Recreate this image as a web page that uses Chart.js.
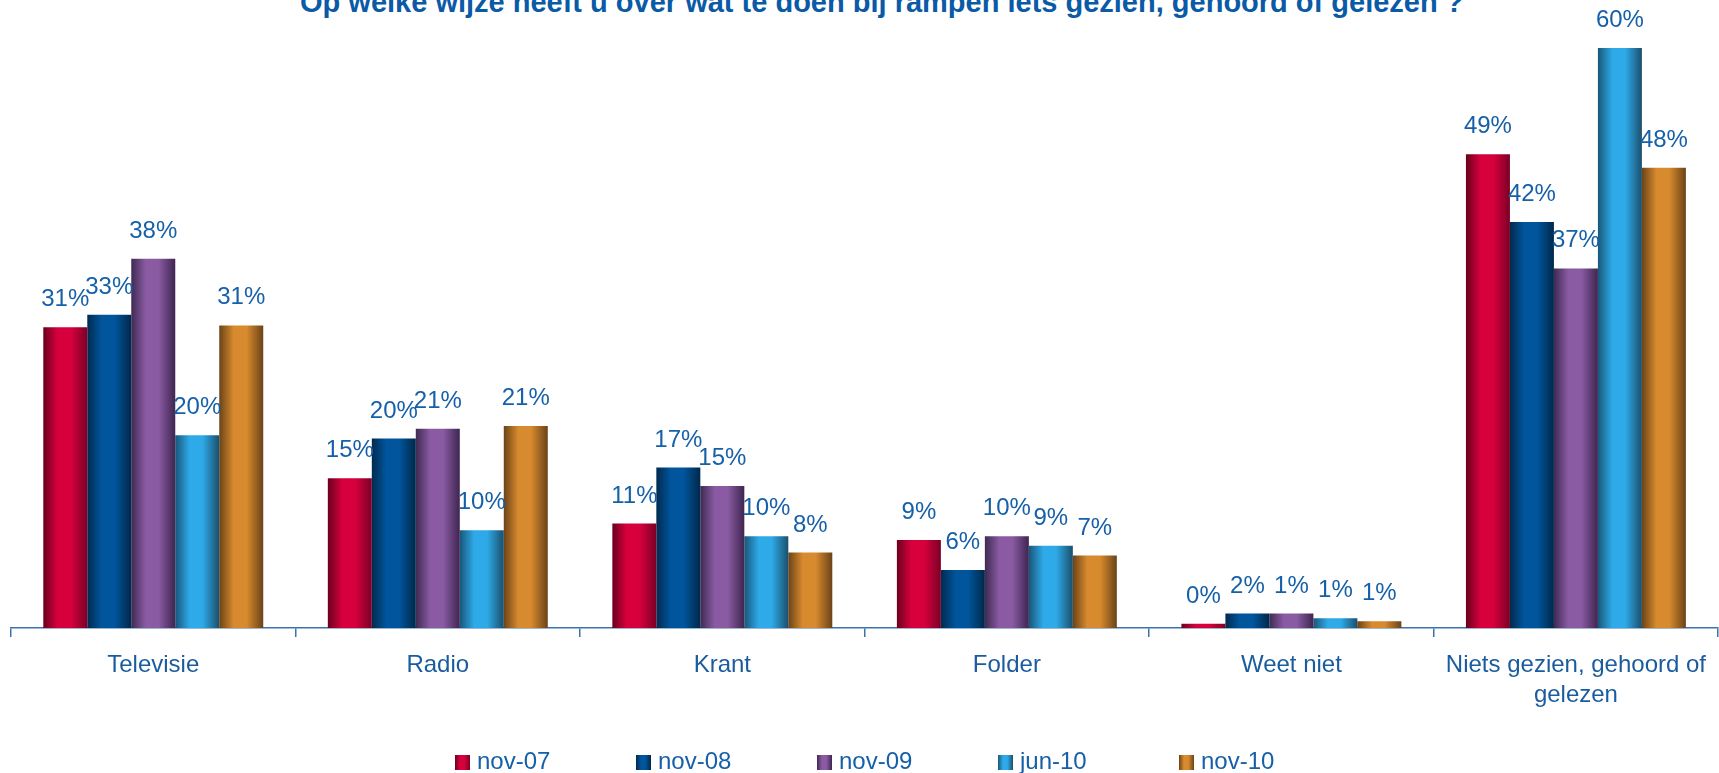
<!DOCTYPE html>
<html>
<head>
<meta charset="utf-8">
<script src="https://cdn.jsdelivr.net/npm/chart.js@4/dist/chart.umd.min.js"></script>
<style>
    html, body { margin: 0; padding: 0; background: #fff; overflow: hidden; }
    #wrap { position: relative; width: 1719px; height: 773px; }
    #title {
        position: absolute; left: 300px; top: -12px; width: 1200px;
        font: bold 29px "Liberation Sans", Arial, sans-serif; line-height: 29px;
        color: #0a5aa6; white-space: nowrap;
    }
    canvas { position: absolute; left: 0; top: 0; }
</style>
</head>
<body>
<div id="wrap">
    <div id="title">Op welke wijze heeft u over wat te doen bij rampen iets gezien, gehoord of gelezen ?</div>
    <canvas id="chart-1" width="1719" height="773"></canvas>
</div>
<script>
// データ
const categories = ['Televisie', 'Radio', 'Krant', 'Folder', 'Weet niet', ['Niets gezien, gehoord of', 'gelezen']];
const seriesNames = ['nov-07', 'nov-08', 'nov-09', 'jun-10', 'nov-10'];

const nov07 = [31.1, 15.5, 10.8, 9.1, 0.45, 49.0];
const nov08 = [32.4, 19.6, 16.6, 6.0, 1.5, 42.0];
const nov09 = [38.2, 20.6, 14.7, 9.5, 1.5, 37.2];
const jun10 = [19.95, 10.1, 9.5, 8.5, 1.0, 60.0];
const nov10 = [31.3, 20.9, 7.8, 7.5, 0.7, 47.6];

const nov07Labels = ['31%', '15%', '11%', '9%', '0%', '49%'];
const nov08Labels = ['33%', '20%', '17%', '6%', '2%', '42%'];
const nov09Labels = ['38%', '21%', '15%', '10%', '1%', '37%'];
const jun10Labels = ['20%', '10%', '10%', '9%', '1%', '60%'];
const nov10Labels = ['31%', '21%', '8%', '7%', '1%', '48%'];

// 円柱っぽいグラデーション (端, 中央)
const shades = [
    ['#6a001e', '#d7003d', '#7a0026'],
    ['#012a4f', '#00559c', '#00284a'],
    ['#3f2a52', '#8a5ba3', '#3e2550'],
    ['#19567a', '#2eaae8', '#1b4f6c'],
    ['#6b4317', '#d88a2e', '#6a4318']
];

const labelColor = '#1560a8';
const fontFamily = '"Liberation Sans", Arial, sans-serif';

function cylinder(ctx, left, right, s) {
    var g = ctx.createLinearGradient(left, 0, right, 0);
    g.addColorStop(0, s[0]);
    g.addColorStop(0.33, s[1]);
    g.addColorStop(0.62, s[1]);
    g.addColorStop(1, s[2]);
    return g;
}

// 各バーにグラデーションを設定
const gradientPlugin = {
    id: 'gradientPlugin',
    beforeDatasetsDraw(chart) {
        chart.data.datasets.forEach(function (ds, di) {
            chart.getDatasetMeta(di).data.forEach(function (el) {
                el.options.backgroundColor = cylinder(chart.ctx, el.x - el.width / 2, el.x + el.width / 2, shades[di]);
            });
        });
    }
};

// バーの上の値ラベル
const valueLabelPlugin = {
    id: 'valueLabelPlugin',
    afterDatasetsDraw(chart) {
        const ctx = chart.ctx;
        ctx.save();
        ctx.font = '24px ' + fontFamily;
        ctx.fillStyle = labelColor;
        ctx.textAlign = 'center';
        ctx.textBaseline = 'alphabetic';
        chart.data.datasets.forEach(function (ds, di) {
            chart.getDatasetMeta(di).data.forEach(function (el, i) {
                ctx.fillText(ds.valueLabels[i], el.x, el.y - 21);
            });
        });
        ctx.restore();
    }
};

// 凡例 (等間隔)
const legendPlugin = {
    id: 'legendPlugin',
    afterDraw(chart) {
        const ctx = chart.ctx;
        ctx.save();
        ctx.font = '24px ' + fontFamily;
        ctx.textBaseline = 'alphabetic';
        chart.data.datasets.forEach(function (ds, di) {
            var x = 455 + di * 181;
            ctx.fillStyle = cylinder(ctx, x, x + 15, shades[di]);
            ctx.fillRect(x, 755, 15, 15);
            ctx.fillStyle = labelColor;
            ctx.fillText(ds.label, x + 22, 769);
        });
        ctx.restore();
    }
};

const valueSets = [nov07, nov08, nov09, jun10, nov10];
const labelSets = [nov07Labels, nov08Labels, nov09Labels, jun10Labels, nov10Labels];

const data = {
    labels: categories,
    datasets: seriesNames.map(function (name, i) {
        return {
            label: name,
            data: valueSets[i],
            valueLabels: labelSets[i],
            backgroundColor: function () { return shades[i][1]; },
            borderWidth: 0,
            barPercentage: 1,
            categoryPercentage: 0.773,
            clip: false
        };
    })
};

const options = {
    responsive: false,
    animation: false,
    layout: { padding: { left: 11, right: 0, top: 48, bottom: 0 } },
    plugins: {
        legend: { display: false },
        title: { display: false },
        tooltip: { enabled: false }
    },
    scales: {
        x: {
            grid: {
                offset: true,
                drawOnChartArea: false,
                color: '#3d72aa',
                lineWidth: 1.5,
                tickLength: 9
            },
            border: { color: '#3d72aa', width: 1.5 },
            ticks: {
                color: '#1a5c9e',
                padding: 13,
                maxRotation: 0,
                autoSkip: false,
                font: { family: fontFamily, size: 24, lineHeight: 1.25 }
            },
            afterFit: function (scale) { scale.height = 145; }
        },
        y: {
            display: false,
            min: 0,
            max: 60
        }
    }
};

var ctx = document.getElementById('chart-1').getContext('2d');
var chart = new Chart(ctx, {
    type: 'bar',
    data: data,
    options: options,
    plugins: [gradientPlugin, valueLabelPlugin, legendPlugin]
});
</script>
</body>
</html>
